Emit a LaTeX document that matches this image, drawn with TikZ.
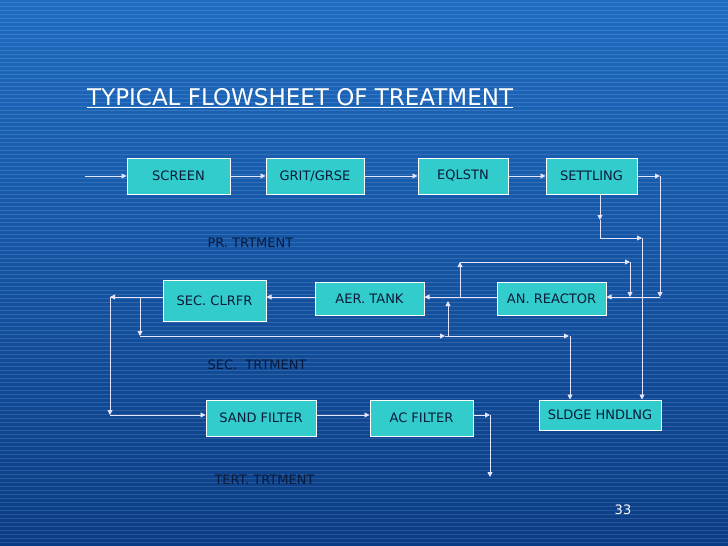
\documentclass[tikz,border=0pt]{standalone}
\usepackage{fontspec}
\setmainfont{DejaVu Sans}
\usetikzlibrary{arrows.meta}
\definecolor{bgtop}{HTML}{1E6BC0}
\definecolor{bgbot}{HTML}{0A3C85}
\definecolor{boxc}{HTML}{33CCCC}
\definecolor{txt}{HTML}{0A1A3A}
\tikzset{
 bx/.style={draw=white,line width=1pt,fill=boxc,inner sep=0pt,font=\fontsize{13}{15}\selectfont,text=txt},
 fl/.style={draw=white!90!blue,line width=0.9pt,-{Triangle[length=5pt,width=5pt]}},
 lbl/.style={anchor=west,font=\fontsize{13}{15}\selectfont,text=txt},
}
\begin{document}
\begin{tikzpicture}[x=1pt,y=-1pt]
\useasboundingbox (0,0) rectangle (728,546);
\shade[top color=bgtop,bottom color=bgbot] (0,0) rectangle (728,546);
\foreach \y in {2,6,...,546} \draw[white,opacity=0.13,line width=0.6pt] (0,\y)--(728,\y);
\node[anchor=west,text=white,font=\fontsize{23}{27}\selectfont,inner sep=0pt] (title) at (87,98) {\underline{TYPICAL FLOWSHEET OF TREATMENT}};
\node[bx,minimum width=103pt,minimum height=36pt] (scr) at (178.5,176) {SCREEN};
\node[bx,minimum width=98pt,minimum height=36pt] (grit) at (315,176) {GRIT/GRSE};
\node[bx,minimum width=90pt,minimum height=36pt] (eq) at (463,176) {EQLSTN};
\node[bx,minimum width=91pt,minimum height=36pt] (set) at (591.5,176) {SETTLING};
\node[bx,minimum width=103pt,minimum height=41pt] (sc) at (214.5,300.5) {SEC. CLRFR};
\node[bx,minimum width=109pt,minimum height=33pt] (aer) at (369.5,298.5) {AER. TANK};
\node[bx,minimum width=109pt,minimum height=33pt] (an) at (551.5,298.5) {AN. REACTOR};
\node[bx,minimum width=110pt,minimum height=36pt] (sand) at (261,418) {SAND FILTER};
\node[bx,minimum width=103pt,minimum height=36pt] (ac) at (421.5,418) {AC FILTER};
\node[bx,minimum width=122pt,minimum height=30pt] (sl) at (600,415) {SLDGE HNDLNG};
\node[lbl] (l1) at (204,243) {PR. TRTMENT};
\node[lbl] (l2) at (204,365) {SEC.\ \ TRTMENT};
\node[lbl] (l3) at (211,480) {TERT. TRTMENT};
\node[text=white,font=\fontsize{13}{15}\selectfont] (pg) at (623,510) {33};
\coordinate (in) at (85,176);
\draw[fl] (in) -- (scr.west);
\draw[fl] (scr) -- (grit);
\draw[fl] (grit) -- (eq);
\draw[fl] (eq) -- (set);
\draw[fl] (set.east) -- (660,176);
\draw[fl] (660,176) -- (660,297);
\draw[fl] (660,297) -- (an.east|-0,297);
\draw[fl] (set.south-|600,0) -- (600,220);
\draw[fl] (600,220) -- (600,238) -- (642,238);
\draw[fl] (642,238) -- (sl.north-|642,0);
\draw[fl] (an.west|-0,297) -- (aer.east|-0,297);
\draw[fl] (460,297) -- (460,262);
\draw[fl] (460,262) -- (630,262);
\draw[fl] (630,262) -- (630,297);
\draw[fl] (aer.west|-0,297) -- (sc.east|-0,297);
\draw[fl] (sc.west|-0,297) -- (110,297);
\draw[fl] (110,297) -- (110,415);
\draw[fl] (110,415) -- (sand.west|-0,415);
\draw[fl] (140,297) -- (140,336);
\draw[fl] (140,336) -- (445,336);
\draw[fl] (445,336) -- (569,336);
\draw[fl] (448,336) -- (448,301);
\draw[fl] (570,336) -- (sl.north-|570,0);
\draw[fl] (sand.east|-0,415) -- (ac.west|-0,415);
\draw[fl] (ac.east|-0,415) -- (490,415);
\draw[fl] (490,415) -- (490,477);
\end{tikzpicture}
\end{document}
